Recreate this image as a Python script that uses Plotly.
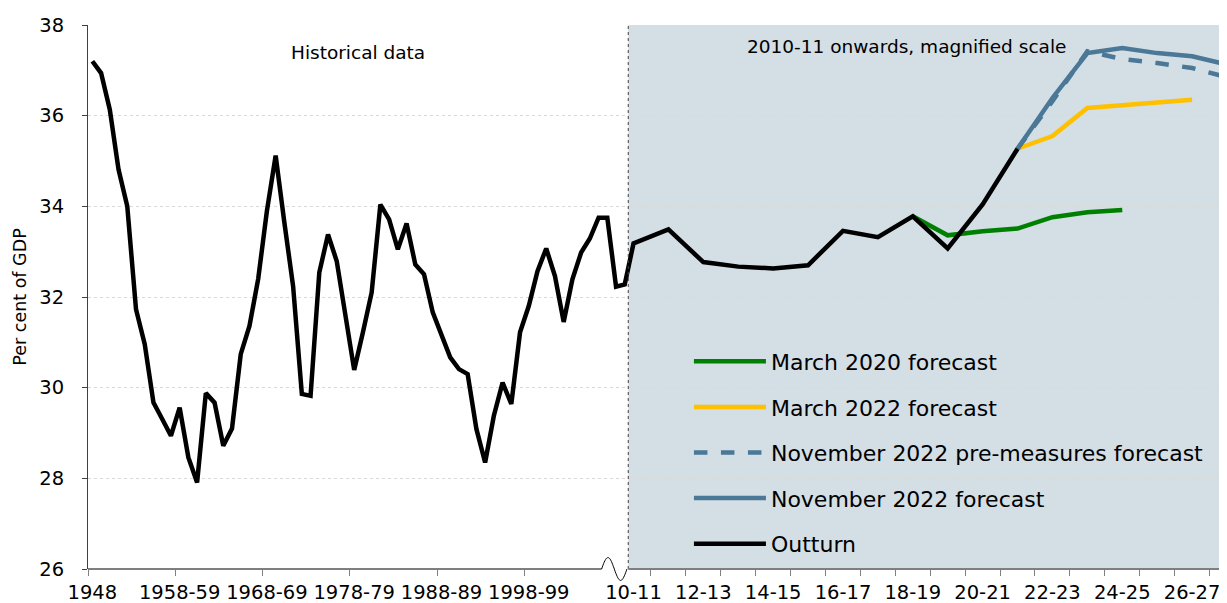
import numpy as np
import plotly.graph_objects as go

# ---------------- data ----------------
hist_values = [37.20, 36.94, 36.13, 34.81, 34.00, 31.73, 30.96, 29.67, 29.31, 28.94,
               29.56, 28.46, 27.91, 29.88, 29.67, 28.72, 29.10, 30.74, 31.36, 32.40,
               33.90, 35.12, 33.64, 32.24, 29.86, 29.82, 32.54, 33.38, 32.79, 31.58,
               30.39, 31.22, 32.10, 34.04, 33.71, 33.05, 33.62, 32.72, 32.50, 31.66,
               31.14, 30.67, 30.41, 30.30, 29.09, 28.35, 29.38, 30.11, 29.64, 31.22,
               31.80, 32.57, 33.07, 32.46, 31.45, 32.39, 32.98, 33.29, 33.75, 33.75,
               32.23, 32.28]
hist_tick_labels = ["1948", "1958-59", "1968-69", "1978-79", "1988-89", "1998-99"]
hist_tick_index = [0, 10, 20, 30, 40, 50]

mag_years = ["2010-11", "2011-12", "2012-13", "2013-14", "2014-15", "2015-16",
             "2016-17", "2017-18", "2018-19", "2019-20", "2020-21", "2021-22",
             "2022-23", "2023-24", "2024-25", "2025-26", "2026-27", "2027-28"]
mag_tick_labels = ["10-11", "12-13", "14-15", "16-17", "18-19", "20-21", "22-23", "24-25", "26-27"]

outturn_mag = [33.18, 33.49, 32.77, 32.67, 32.63, 32.70, 33.46, 33.32, 33.78, 33.07, 34.04, 35.27]
mar2020 = [33.78, 33.36, 33.45, 33.51, 33.76, 33.87, 33.92]          # from 2018-19
mar2022 = [35.27, 35.55, 36.17, 36.24, 36.29, 36.35]                  # from 2021-22
nov2022_pre = [35.27, 36.32, 37.42, 37.25, 37.16, 37.05, 36.85]       # from 2021-22
nov2022 = [35.27, 36.39, 37.38, 37.49, 37.38, 37.31, 37.13]           # from 2021-22

# ---------------- axis mapping (broken axis) ----------------
MAG_START = 62.5   # position of 2010-11 on the shared numeric axis
MAG_SCALE = 4.0    # magnification of the recent period
BREAK_X = 61.9
X_MAX = 130.5


def hx(k):
    return k + 0.5


def series_x(start_year, n):
    i0 = mag_years.index(start_year)
    return [MAG_START + MAG_SCALE * (i0 + j) for j in range(n)]


out_x = [hx(k) for k in range(len(hist_values))] + series_x("2010-11", len(outturn_mag))
out_y = hist_values + outturn_mag

FONT = "DejaVu Sans"
C_GREEN = "#008000"
C_YELLOW = "#FFC000"
C_BLUE = "#4A7896"

fig = go.Figure()
LW = 4.5
fig.add_trace(go.Scatter(x=series_x("2018-19", len(mar2020)), y=mar2020, mode="lines",
                         name="March 2020 forecast", legendgroup="a",
                         line=dict(color=C_GREEN, width=LW)))
fig.add_trace(go.Scatter(x=series_x("2021-22", len(mar2022)), y=mar2022, mode="lines",
                         name="March 2022 forecast", legendgroup="b",
                         line=dict(color=C_YELLOW, width=LW)))
fig.add_trace(go.Scatter(x=series_x("2021-22", len(nov2022_pre)), y=nov2022_pre, mode="lines",
                         name="November 2022 pre-measures forecast", legendgroup="c",
                         line=dict(color=C_BLUE, width=LW, dash="dash")))
fig.add_trace(go.Scatter(x=series_x("2021-22", len(nov2022)), y=nov2022, mode="lines",
                         name="November 2022 forecast", legendgroup="d",
                         line=dict(color=C_BLUE, width=LW)))
fig.add_trace(go.Scatter(x=out_x, y=out_y, mode="lines", name="Outturn", legendgroup="e",
                         line=dict(color="black", width=LW)))

# tick positions
label_vals = [hx(k) for k in hist_tick_index] + [MAG_START + MAG_SCALE * 2 * j for j in range(len(mag_tick_labels))]
label_text = hist_tick_labels + mag_tick_labels
minor_vals = [float(k) for k in hist_tick_index] + [MAG_START + MAG_SCALE * (j + 0.5) for j in range(len(mag_years) - 1)]

shapes = []
# shaded magnified region
shapes.append(dict(type="rect", xref="x", yref="paper", x0=BREAK_X, x1=X_MAX, y0=0, y1=1,
                   fillcolor="#D3DEE5", line=dict(width=0), layer="below"))
# dotted divider
shapes.append(dict(type="line", xref="x", yref="paper", x0=BREAK_X, x1=BREAK_X, y0=0, y1=1,
                   line=dict(color="#404040", width=1, dash="dot"), layer="above"))
# x-axis line with break symbol
W0, W1 = 58.85, 61.75
shapes.append(dict(type="line", xref="x", yref="paper", x0=0, x1=W0, y0=0, y1=0,
                   line=dict(color="#7F7F7F", width=2)))
shapes.append(dict(type="line", xref="x", yref="paper", x0=W1 + 0.15, x1=X_MAX, y0=0, y1=0,
                   line=dict(color="#7F7F7F", width=2)))
t = np.linspace(0, 1, 40)
wx = W0 + (W1 - W0) * t
wy = 0.021 * np.sin(2 * np.pi * t)
path = "M " + " L ".join(f"{a:.3f},{b:.4f}" for a, b in zip(wx, wy))
shapes.append(dict(type="path", xref="x", yref="paper", path=path,
                   line=dict(color="black", width=1)))

# the page places the figure 8px in from the top-left corner, so size it to fit the window
fig.update_layout(
    width=1219, height=595,
    margin=dict(l=80, r=0, t=17, b=34, autoexpand=False),
    paper_bgcolor="white", plot_bgcolor="white",
    font=dict(family=FONT, color="black"),
    shapes=shapes,
    showlegend=True,
    legend=dict(x=0.5276, y=0.42, xanchor="left", yanchor="top",
                bgcolor="rgba(0,0,0,0)", font=dict(size=22, family=FONT),
                traceorder="grouped", tracegroupgap=14, itemwidth=72),
    annotations=[
        dict(x=30.9, y=0.95, xref="x", yref="paper", text="Historical data",
             showarrow=False, yanchor="middle", xanchor="center",
             font=dict(size=18.5, family=FONT)),
        dict(x=93.8, y=0.96, xref="x", yref="paper", text="2010-11 onwards, magnified scale",
             showarrow=False, yanchor="middle", xanchor="center",
             font=dict(size=18.5, family=FONT)),
    ],
)
fig.update_xaxes(range=[0, X_MAX], showline=False, showgrid=False, zeroline=False,
                 automargin=False,
                 tickmode="array", tickvals=label_vals, ticktext=label_text,
                 ticks="", tickfont=dict(size=19.5, family=FONT), ticklabelstandoff=9,
                 minor=dict(tickmode="array", tickvals=minor_vals, ticks="outside",
                            ticklen=6, tickcolor="#7F7F7F", tickwidth=1, showgrid=False))
fig.update_yaxes(range=[26, 38], dtick=2, showline=True, linecolor="#404040", linewidth=1,
                 automargin=False,
                 ticks="outside", ticklen=5, tickcolor="#404040", ticklabelstandoff=14,
                 showgrid=True, gridcolor="#D9D9D9", griddash="dot", gridwidth=1,
                 zeroline=False, tickfont=dict(size=19.5, family=FONT),
                 title=dict(text="Per cent of GDP", font=dict(size=17.5, family=FONT), standoff=8))

fig.write_html("out.html")
